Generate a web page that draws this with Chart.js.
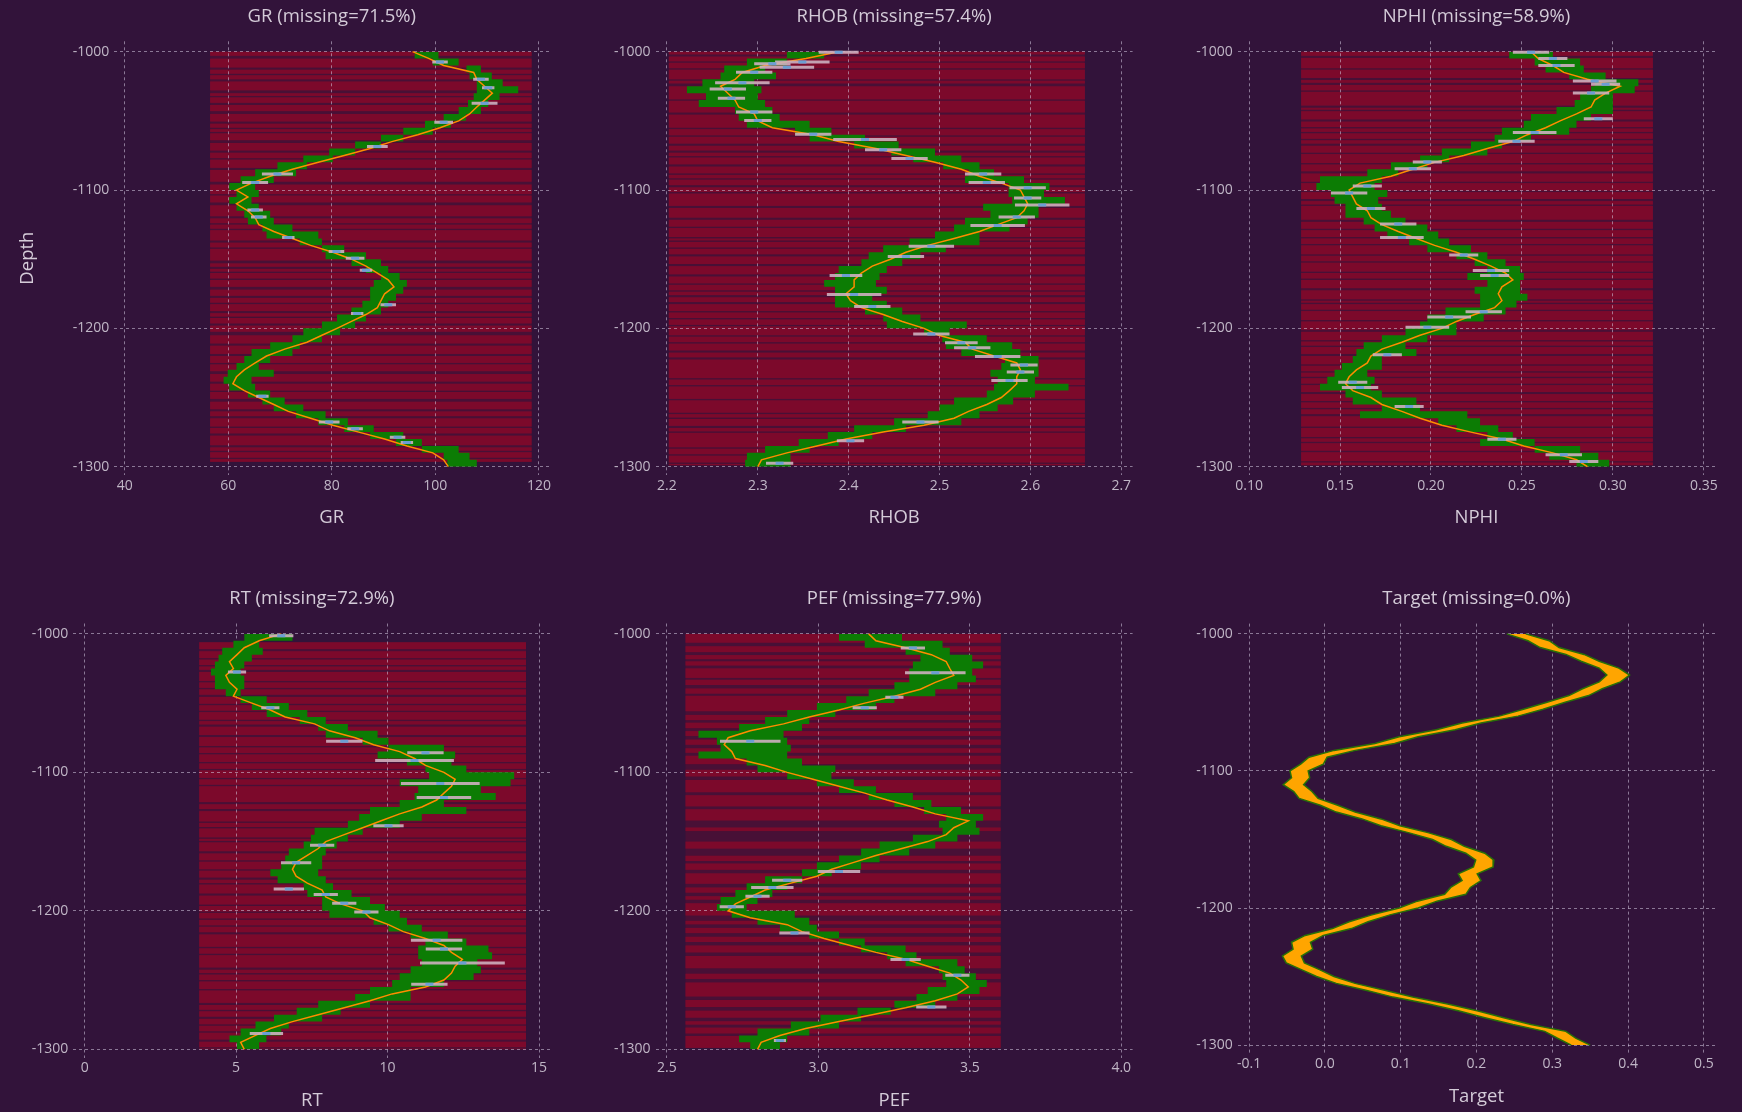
<!DOCTYPE html>
<html>
<head>
<meta charset="utf-8">
<script src="https://cdn.jsdelivr.net/npm/chart.js@4.4.0/dist/chart.umd.min.js"></script>
<style>
  html, body { margin: 0; padding: 0; background: #32133a; }
  body { width: 1742px; height: 1112px; position: relative; overflow: hidden; }
  canvas { position: absolute; }
</style>
</head>
<body>
<script>
// depth samples shared by every track
const depth = [
  -1000, -1005, -1010, -1015, -1020, -1025, -1030, -1035, -1040, -1045,
  -1050, -1055, -1060, -1065, -1070, -1075, -1080, -1085, -1090, -1095,
  -1100, -1105, -1110, -1115, -1120, -1125, -1130, -1135, -1140, -1145,
  -1150, -1155, -1160, -1165, -1170, -1175, -1180, -1185, -1190, -1195,
  -1200, -1205, -1210, -1215, -1220, -1225, -1230, -1235, -1240, -1245,
  -1250, -1255, -1260, -1265, -1270, -1275, -1280, -1285, -1290, -1295,
  -1300
];
const depthTicks = [-1000, -1100, -1200, -1300];

// ---- GR ----
const grMid = [
  95.6, 98.8, 101.6, 107.4, 108, 109.5, 111, 109.5, 108, 106.6,
  104.5, 100.9, 96.6, 91.6, 87.4, 82.4, 77.4, 72.4, 68.1, 64.5,
  61.6, 63.8, 61.6, 63.8, 65.2, 65.9, 68.8, 72.4, 75.9, 80.2,
  83.8, 86.6, 88.8, 90.9, 92, 90.2, 89.5, 88.8, 86.6, 83.8,
  81, 78.1, 75.2, 70.9, 67.4, 65.2, 63.1, 61.6, 60.9, 63.1,
  65.9, 68.8, 71.6, 75.9, 80.2, 85.2, 90.2, 94.5, 99.5, 101.6,
  102.5
];
const grLo = [
  94.9, 96, 99.5, 106, 106.6, 108, 108, 107.4, 106.3, 104.5,
  101.6, 98, 93.8, 89.5, 84.5, 79.5, 74.5, 69.5, 65.2, 62.4,
  60.2, 61.6, 60.2, 61.6, 63.1, 63.8, 66.6, 67.4, 73.8, 78.1,
  78.8, 83.8, 86.6, 89.5, 88.1, 87.4, 87.4, 85.9, 83.8, 81,
  78.1, 74.5, 72.4, 68.1, 64.5, 63.1, 61.6, 59.9, 59.1, 60.2,
  63.8, 66.6, 68.8, 73.1, 77.4, 82.4, 87.4, 92.4, 97.4, 101.6,
  102.3
];
const grHi = [
  98.1, 100.6, 104.5, 108.8, 110.9, 113, 116, 112.4, 110.2, 108.8,
  105.9, 103, 99.5, 93.8, 89.5, 84.5, 80.2, 75.2, 73.1, 68.8,
  65.2, 65.9, 64.5, 65.9, 68.1, 68.8, 72.4, 77.4, 78.1, 82.4,
  86.6, 89.5, 90.9, 93.1, 94.5, 93.8, 92.4, 90.9, 89.5, 86.6,
  84.5, 81.6, 78.1, 73.8, 72.4, 68.1, 65.9, 68.8, 64.5, 65.2,
  68.1, 70.9, 74.5, 78.8, 83.1, 88.1, 93.8, 97.4, 104.5, 106.6,
  108
];
const grObsD = [-1007.5, -1019.9, -1026, -1037.3, -1051, -1068.5, -1088.4, -1094.6, -1114.5, -1119.5,
  -1134.4, -1144.4, -1149.4, -1158, -1183, -1189.2, -1249, -1267.6, -1272.6, -1278.8, -1282.5];
const grObsV = [100.9, 108.8, 110.2, 109.5, 101.6, 88.8, 69.5, 65.2, 65.2, 65.9,
  71.6, 80.9, 84.5, 86.6, 90.9, 84.9, 66.6, 79.5, 84.5, 92.7, 94.5];
const grObsErr = [1.5, 1.5, 1.2, 2.5, 1.8, 2, 3, 2.5, 1.5, 1.5,
  1.2, 1.5, 1.8, 1.2, 1.5, 1.2, 1.2, 2, 1.5, 1.5, 1.2];
const grRedX = [56.5, 118.6];
const grRedD = [-1000, -1296.5];
const grGaps = [[-1003,-1005],[-1011.5,-1013],[-1016,-1017],[-1020,-1021.5],[-1028,-1030],[-1032,-1033],
  [-1037,-1038.5],[-1043,-1045],[-1050.5,-1052],[-1055,-1056],[-1058,-1059],[-1064,-1066],[-1071.5,-1073],
  [-1077,-1078],[-1084,-1085.5],[-1094,-1096],[-1103,-1104],[-1109,-1111],[-1119,-1120.5],[-1124,-1125],
  [-1128,-1129],[-1136.5,-1138],[-1141.5,-1142.5],[-1151,-1153],[-1155.5,-1157],[-1159,-1160],[-1164,-1165],
  [-1170,-1172],[-1176.5,-1178],[-1181.5,-1182.5],[-1187.5,-1189],[-1191.5,-1192.5],[-1196.5,-1198],
  [-1202.5,-1205],[-1211,-1212.5],[-1218.5,-1220],[-1225,-1226],[-1231,-1233],[-1238.5,-1240],[-1245,-1246],
  [-1251,-1253],[-1258.5,-1260],[-1263.5,-1265],[-1271,-1272],[-1276,-1277.5],[-1284.5,-1286],
  [-1288.5,-1289.5],[-1293.5,-1294.5]];
const grTicks = [40, 60, 80, 100, 120];

// ---- RHOB ----
const rhobMid = [
  2.389, 2.353, 2.308, 2.283, 2.275, 2.259, 2.267, 2.275, 2.279, 2.296,
  2.3, 2.316, 2.361, 2.389, 2.43, 2.463, 2.495, 2.524, 2.544, 2.568,
  2.589, 2.593, 2.597, 2.593, 2.585, 2.564, 2.544, 2.516, 2.487, 2.463,
  2.446, 2.426, 2.414, 2.406, 2.406, 2.397, 2.402, 2.414, 2.438, 2.459,
  2.483, 2.499, 2.528, 2.536, 2.56, 2.585, 2.589, 2.585, 2.585, 2.577,
  2.568, 2.552, 2.532, 2.516, 2.483, 2.438, 2.397, 2.365, 2.332, 2.304,
  2.3
];
const rhobLo = [
  2.365, 2.332, 2.288, 2.263, 2.259, 2.239, 2.222, 2.243, 2.235, 2.275,
  2.279, 2.288, 2.341, 2.357, 2.406, 2.447, 2.471, 2.504, 2.532, 2.528,
  2.576, 2.576, 2.58, 2.548, 2.556, 2.528, 2.516, 2.495, 2.467, 2.438,
  2.422, 2.414, 2.389, 2.385, 2.373, 2.385, 2.385, 2.385, 2.418, 2.438,
  2.442, 2.483, 2.503, 2.507, 2.524, 2.572, 2.568, 2.556, 2.564, 2.56,
  2.552, 2.516, 2.5, 2.487, 2.45, 2.406, 2.377, 2.345, 2.308, 2.288,
  2.286
];
const rhobHi = [
  2.404, 2.373, 2.332, 2.308, 2.32, 2.296, 2.304, 2.3, 2.308, 2.316,
  2.324, 2.357, 2.381, 2.418, 2.455, 2.495, 2.524, 2.544, 2.56, 2.593,
  2.621, 2.615, 2.638, 2.609, 2.609, 2.597, 2.577, 2.544, 2.544, 2.507,
  2.479, 2.459, 2.442, 2.434, 2.43, 2.442, 2.426, 2.442, 2.459, 2.479,
  2.53, 2.511, 2.552, 2.58, 2.589, 2.609, 2.609, 2.609, 2.605, 2.642,
  2.605, 2.581, 2.564, 2.544, 2.524, 2.463, 2.426, 2.389, 2.357, 2.336,
  2.336
];
const rhobObsD = [-1000.5, -1007.5, -1008.7, -1011.2, -1014.9, -1022.4, -1026.9, -1033.6, -1043.6, -1049.8,
  -1059.7, -1063.5, -1070.9, -1077.2, -1088.4, -1094.6, -1098.3, -1105.8, -1110.8, -1119.5,
  -1125.7, -1140.7, -1148.1, -1161.8, -1175.5, -1184.2, -1204.1, -1210.4, -1214.1, -1220.3,
  -1226.5, -1231.5, -1237.7, -1267.6, -1281.3, -1297.5];
const rhobObsV = [2.389, 2.349, 2.316, 2.332, 2.296, 2.283, 2.267, 2.271, 2.296, 2.3,
  2.361, 2.418, 2.438, 2.467, 2.548, 2.552, 2.597, 2.597, 2.613, 2.585,
  2.564, 2.491, 2.463, 2.397, 2.406, 2.426, 2.491, 2.524, 2.536, 2.564,
  2.593, 2.589, 2.577, 2.479, 2.402, 2.324];
const rhobObsErr = [0.022, 0.03, 0.02, 0.03, 0.02, 0.03, 0.02, 0.015, 0.02, 0.015,
  0.02, 0.035, 0.02, 0.02, 0.02, 0.02, 0.02, 0.015, 0.03, 0.02,
  0.03, 0.025, 0.02, 0.018, 0.03, 0.02, 0.02, 0.018, 0.02, 0.025,
  0.015, 0.015, 0.02, 0.02, 0.015, 0.015];
const rhobRedX = [2.202, 2.66];
const rhobRedD = [-1000, -1299];
const rhobGaps = [[-1002,-1003.5],[-1007,-1008],[-1012,-1013],[-1020,-1021],[-1023,-1025],[-1034.5,-1035.5],
  [-1044,-1045.5],[-1055,-1056],[-1060.5,-1061.5],[-1066.5,-1068],[-1071.5,-1073],[-1075.5,-1076.5],
  [-1081.5,-1083],[-1088,-1089],[-1091.5,-1092.5],[-1096.5,-1098],[-1101.5,-1102.5],[-1111.5,-1113],
  [-1120,-1121.5],[-1126.5,-1127.5],[-1134,-1135],[-1136.5,-1137.5],[-1141.5,-1142.5],[-1146.5,-1148],
  [-1153.5,-1155],[-1161,-1162.5],[-1167.5,-1168.5],[-1172.5,-1173.5],[-1176,-1177.5],[-1181,-1182.5],
  [-1187.5,-1188.5],[-1192.5,-1193.5],[-1197.5,-1198.5],[-1205,-1206],[-1210,-1211],[-1216,-1217.5],
  [-1221,-1222.5],[-1236,-1237],[-1241,-1242],[-1251,-1252],[-1261,-1262],[-1264.5,-1265.5],
  [-1270.5,-1272],[-1274.5,-1275.5],[-1286,-1287],[-1291,-1292],[-1297,-1298]];
const rhobTicks = [2.2, 2.3, 2.4, 2.5, 2.6, 2.7];

// ---- NPHI ----
const nphiMid = [
  0.255, 0.259, 0.267, 0.273, 0.286, 0.304, 0.296, 0.29, 0.288, 0.28,
  0.271, 0.263, 0.253, 0.245, 0.231, 0.218, 0.202, 0.19, 0.178, 0.161,
  0.155, 0.157, 0.159, 0.165, 0.167, 0.173, 0.182, 0.192, 0.202, 0.214,
  0.224, 0.233, 0.241, 0.245, 0.239, 0.237, 0.239, 0.235, 0.224, 0.214,
  0.206, 0.194, 0.184, 0.173, 0.167, 0.165, 0.159, 0.155, 0.153, 0.157,
  0.167, 0.173, 0.184, 0.194, 0.206, 0.222, 0.239, 0.251, 0.267, 0.28,
  0.286
];
const nphiLo = [
  0.241, 0.243, 0.257, 0.263, 0.276, 0.29, 0.288, 0.282, 0.279, 0.269,
  0.255, 0.251, 0.239, 0.235, 0.222, 0.206, 0.194, 0.178, 0.165, 0.139,
  0.137, 0.145, 0.147, 0.153, 0.153, 0.163, 0.169, 0.176, 0.188, 0.198,
  0.214, 0.224, 0.231, 0.22, 0.231, 0.224, 0.227, 0.227, 0.208, 0.198,
  0.194, 0.186, 0.173, 0.163, 0.159, 0.157, 0.151, 0.147, 0.143, 0.139,
  0.153, 0.157, 0.173, 0.161, 0.204, 0.214, 0.231, 0.227, 0.257, 0.265,
  0.28
];
const nphiHi = [
  0.276, 0.267, 0.282, 0.284, 0.296, 0.314, 0.312, 0.3, 0.3, 0.3,
  0.288, 0.28, 0.276, 0.255, 0.239, 0.231, 0.21, 0.198, 0.182, 0.173,
  0.169, 0.176, 0.171, 0.173, 0.178, 0.186, 0.198, 0.204, 0.21, 0.222,
  0.231, 0.241, 0.249, 0.251, 0.249, 0.249, 0.253, 0.247, 0.241, 0.229,
  0.214, 0.214, 0.198, 0.186, 0.192, 0.173, 0.173, 0.165, 0.169, 0.167,
  0.173, 0.192, 0.194, 0.22, 0.227, 0.237, 0.245, 0.257, 0.282, 0.292,
  0.298
];
const nphiObsD = [-1000.5, -1005, -1010, -1021.2, -1023.6, -1029.9, -1048.5, -1058.5, -1064.7, -1079.7,
  -1084.6, -1097.1, -1102.1, -1113.3, -1124.5, -1134.4, -1146.9, -1158.1, -1161.8, -1188,
  -1191.7, -1199.2, -1219.1, -1239, -1242.7, -1256.4, -1280.1, -1291.3, -1296.2];
const nphiObsV = [0.255, 0.267, 0.269, 0.29, 0.296, 0.288, 0.292, 0.257, 0.247, 0.198,
  0.19, 0.165, 0.155, 0.167, 0.182, 0.184, 0.218, 0.233, 0.235, 0.229,
  0.21, 0.198, 0.176, 0.157, 0.161, 0.188, 0.239, 0.273, 0.284];
const nphiObsErr = [0.01, 0.008, 0.01, 0.012, 0.008, 0.01, 0.008, 0.012, 0.01, 0.008,
  0.01, 0.008, 0.01, 0.008, 0.01, 0.012, 0.008, 0.01, 0.008, 0.01,
  0.012, 0.012, 0.008, 0.008, 0.01, 0.008, 0.008, 0.01, 0.008];
const nphiRedX = [0.1286, 0.322];
const nphiRedD = [-1000, -1299];
const nphiGaps = [[-1003,-1004.5],[-1012,-1013],[-1019,-1020.5],[-1022.5,-1024],[-1028,-1029],[-1039,-1040.5],
  [-1042,-1043],[-1049,-1050.5],[-1054.5,-1055.5],[-1058,-1059],[-1063,-1064],[-1066.5,-1068],[-1073,-1074],
  [-1080.5,-1081.5],[-1086.5,-1088],[-1094,-1095],[-1100.5,-1101.5],[-1106.5,-1108],[-1110.5,-1111.5],
  [-1121.5,-1123],[-1128,-1129],[-1134,-1135],[-1139,-1140],[-1146.5,-1147.5],[-1151.5,-1152.5],
  [-1159,-1160],[-1164,-1165],[-1171,-1172.5],[-1179,-1180],[-1181.5,-1182.5],[-1186.5,-1187.5],
  [-1194,-1195],[-1201,-1202.5],[-1208.5,-1209.5],[-1212.5,-1213.5],[-1218.5,-1220],[-1226,-1227],
  [-1231,-1232],[-1235,-1236],[-1240,-1241],[-1246,-1247.5],[-1252.5,-1253.5],[-1257.5,-1258.5],
  [-1262,-1263.5],[-1271,-1272],[-1278.5,-1279.5],[-1282,-1283],[-1288.5,-1289.5],[-1296,-1297]];
const nphiTicks = [0.10, 0.15, 0.20, 0.25, 0.30, 0.35];

// ---- RT ----
const rtMid = [
  6.49, 5.76, 5.27, 5.03, 4.78, 4.91, 4.66, 4.78, 5.03, 4.91,
  5.52, 6.13, 6.62, 7.59, 8.08, 8.93, 9.54, 10.4, 10.89, 11.25,
  11.86, 12.23, 12.11, 11.86, 11.62, 11.13, 10.4, 9.79, 9.18, 8.57,
  7.96, 7.71, 7.35, 6.98, 6.86, 6.98, 7.35, 7.84, 7.96, 8.45,
  9.18, 9.42, 10.03, 10.52, 11.25, 11.86, 12.11, 12.47, 12.23, 12.11,
  11.86, 11.25, 10.15, 9.42, 8.57, 7.71, 6.86, 6.13, 5.64, 5.15,
  5.27
];
const rtLo = [
  6.13, 5.27, 4.91, 4.54, 4.42, 4.3, 4.17, 4.3, 4.3, 4.66,
  5.15, 5.52, 6.01, 7.1, 7.71, 7.96, 9.18, 10.03, 9.67, 10.64,
  11.25, 11.37, 10.4, 11.01, 10.89, 10.4, 9.42, 9.06, 8.69, 7.59,
  7.47, 7.23, 6.74, 6.62, 6.49, 6.13, 6.37, 7.23, 7.35, 7.84,
  7.84, 8.08, 9.54, 10.03, 10.76, 11.25, 11.01, 11.01, 11.13, 10.76,
  10.4, 10.15, 9.42, 8.93, 7.71, 7.0, 6.25, 5.64, 5.15, 4.78,
  5.03
];
const rtHi = [
  6.98, 6.86, 5.76, 5.88, 5.52, 5.27, 5.15, 5.27, 5.27, 5.15,
  6.01, 6.74, 7.35, 7.96, 8.69, 9.67, 10.03, 11.86, 12.23, 12.11,
  12.6, 14.18, 14.06, 13.08, 13.57, 11.86, 12.6, 11.13, 10.4, 9.18,
  8.69, 8.32, 7.96, 7.84, 7.84, 7.71, 7.96, 8.2, 8.81, 9.42,
  9.91, 10.4, 10.64, 11.13, 11.99, 12.6, 13.33, 13.45, 12.96, 13.08,
  12.84, 11.86, 10.76, 10.76, 9.42, 8.45, 7.84, 6.74, 6.49, 6.0,
  5.76
];
const rtObsD = [-1001.3, -1027.5, -1053.4, -1077.5, -1085.9, -1091.5, -1108.1, -1118.2, -1138.6, -1152.6,
  -1165.3, -1184.3, -1188.2, -1194.5, -1200.9, -1221.2, -1227.6, -1237.7, -1253, -1288.6];
const rtObsV = [6.49, 5.03, 6.13, 8.57, 11.25, 10.89, 11.74, 11.86, 10.03, 7.84,
  6.98, 6.74, 7.96, 8.57, 9.3, 11.62, 11.86, 12.47, 11.38, 6.0];
const rtObsErr = [0.4, 0.3, 0.3, 0.6, 0.6, 1.3, 1.3, 0.9, 0.5, 0.4,
  0.5, 0.5, 0.4, 0.4, 0.4, 0.85, 0.6, 1.4, 0.6, 0.55];
const rtRedX = [3.78, 14.57];
const rtRedD = [-1006, -1300];
const rtGaps = [[-1011,-1012.5],[-1017.5,-1018.5],[-1022.5,-1023.5],[-1026,-1027.5],[-1034,-1035],[-1039,-1040],
  [-1044,-1045.5],[-1050.5,-1051.5],[-1055.5,-1056.5],[-1062,-1063],[-1065.5,-1067],[-1073,-1074.5],
  [-1081,-1082],[-1086,-1087],[-1092.5,-1093.5],[-1097.5,-1098.5],[-1104,-1105],[-1109,-1110],
  [-1121.5,-1123],[-1126.5,-1128],[-1135.5,-1136.5],[-1139.5,-1140.5],[-1147,-1148],[-1149.5,-1150.5],
  [-1157,-1158.5],[-1163.5,-1164.5],[-1170,-1171],[-1176,-1177.5],[-1180,-1181],[-1187.5,-1189],
  [-1195.5,-1196.5],[-1200.5,-1201.5],[-1205.5,-1206.5],[-1210.5,-1211.5],[-1215.5,-1217],[-1226,-1227],
  [-1231,-1232],[-1241,-1242.5],[-1245,-1246],[-1250,-1251],[-1256.5,-1257.5],[-1266.5,-1268],
  [-1271.5,-1272.5],[-1276.5,-1278],[-1282,-1283],[-1287,-1288],[-1293,-1294.5],[-1298.5,-1299.5]];
const rtTicks = [0, 5, 10, 15];

// ---- PEF ----
const pefMid = [
  3.166, 3.19, 3.288, 3.373, 3.422, 3.434, 3.447, 3.386, 3.337, 3.251,
  3.153, 3.068, 2.97, 2.885, 2.775, 2.702, 2.689, 2.714, 2.726, 2.824,
  2.897, 2.982, 3.068, 3.153, 3.227, 3.312, 3.386, 3.495, 3.447, 3.422,
  3.361, 3.276, 3.19, 3.117, 3.044, 2.995, 2.909, 2.824, 2.775, 2.726,
  2.702, 2.775, 2.897, 2.946, 3.019, 3.105, 3.19, 3.288, 3.361, 3.434,
  3.471, 3.495, 3.459, 3.386, 3.288, 3.178, 3.068, 2.958, 2.873, 2.811,
  2.799
];
const pefLo = [
  3.117, 3.068, 3.153, 3.288, 3.337, 3.312, 3.3, 3.3, 3.251, 3.166,
  3.092, 2.995, 2.897, 2.824, 2.738, 2.604, 2.665, 2.677, 2.604, 2.763,
  2.799, 2.897, 2.995, 3.068, 3.166, 3.251, 3.349, 3.422, 3.398, 3.41,
  3.312, 3.202, 3.141, 3.068, 2.995, 2.946, 2.824, 2.763, 2.726, 2.677,
  2.665, 2.714, 2.799, 2.873, 2.97, 3.068, 3.141, 3.227, 3.288, 3.398,
  3.41, 3.422, 3.361, 3.324, 3.251, 3.129, 3.007, 2.909, 2.799, 2.738,
  2.775
];
const pefHi = [
  3.202, 3.276, 3.41, 3.434, 3.508, 3.544, 3.508, 3.52, 3.459, 3.386,
  3.251, 3.19, 3.056, 2.97, 2.946, 2.885, 2.897, 2.909, 2.897, 2.946,
  3.056, 3.043, 3.117, 3.19, 3.312, 3.373, 3.471, 3.544, 3.52, 3.532,
  3.459, 3.386, 3.3, 3.202, 3.141, 3.044, 2.946, 2.897, 2.848, 2.799,
  2.763, 2.922, 2.97, 2.995, 3.068, 3.153, 3.288, 3.324, 3.459, 3.483,
  3.52, 3.556, 3.532, 3.459, 3.386, 3.239, 3.141, 3.068, 2.97, 2.897,
  2.873
];
const pefObsD = [-1010.2, -1028, -1045.8, -1053.4, -1077.5, -1171.6, -1178, -1183.1, -1189.4, -1197,
  -1216.1, -1235.2, -1246.6, -1269.5, -1293.7];
const pefObsV = [3.312, 3.386, 3.251, 3.153, 2.775, 3.068, 2.897, 2.848, 2.799, 2.714,
  2.921, 3.288, 3.459, 3.373, 2.873];
const pefObsErr = [0.04, 0.1, 0.03, 0.04, 0.1, 0.07, 0.05, 0.07, 0.04, 0.04,
  0.05, 0.05, 0.04, 0.05, 0.02];
const pefRedX = [2.561, 3.602];
const pefRedD = [-1000, -1299];
const pefGaps = [[-1006.4,-1008.9],[-1013.2,-1015.3],[-1018.3,-1019.8],[-1022.9,-1024.9],[-1031.8,-1033.1],
  [-1036.9,-1039.4],[-1043.2,-1044.7],[-1055.9,-1058.5],[-1062.3,-1064.1],[-1068.1,-1070.2],
  [-1073.7,-1076.3],[-1080.1,-1082.6],[-1085.9,-1088],[-1094.1,-1098.1],[-1103,-1105.5],
  [-1114.4,-1116.5],[-1124.6,-1126.6],[-1134.8,-1139.8],[-1142.4,-1150],[-1155.1,-1160.2],
  [-1164,-1165.8],[-1170.4,-1172.9],[-1180.5,-1183.1],[-1186.9,-1189.4],[-1192,-1194.5],
  [-1203.4,-1207.2],[-1209.8,-1212.3],[-1216.1,-1218.7],[-1222.5,-1225],[-1230.1,-1232.6],
  [-1241.5,-1245.4],[-1249.2,-1251.7],[-1261.9,-1264.4],[-1269.5,-1272.1],[-1277.2,-1279.7],
  [-1282.2,-1284.3],[-1288.6,-1290.4]];
const pefTicks = [2.5, 3.0, 3.5, 4.0];

// ---- Target ----
const tgtLo = [
  0.24, 0.268, 0.284, 0.318, 0.338, 0.362, 0.372, 0.362, 0.34, 0.322,
  0.292, 0.262, 0.23, 0.181, 0.147, 0.098, 0.066, 0.012, -0.021, -0.032,
  -0.046, -0.044, -0.055, -0.041, -0.034, -0.006, 0.015, 0.049, 0.074, 0.11,
  0.142, 0.16, 0.186, 0.199, 0.196, 0.176, 0.181, 0.166, 0.158, 0.122,
  0.098, 0.062, 0.032, 0.01, -0.026, -0.044, -0.042, -0.056, -0.051, -0.031,
  -0.011, 0.015, 0.054, 0.09, 0.137, 0.176, 0.211, 0.248, 0.29, 0.307,
  0.325
];
const tgtHi = [
  0.265, 0.296, 0.309, 0.342, 0.362, 0.388, 0.402, 0.39, 0.366, 0.348,
  0.316, 0.288, 0.255, 0.206, 0.172, 0.123, 0.092, 0.04, 0.003, -0.002,
  -0.022, -0.02, -0.028, -0.017, -0.009, 0.017, 0.04, 0.074, 0.099, 0.136,
  0.167, 0.184, 0.211, 0.223, 0.222, 0.201, 0.206, 0.192, 0.186, 0.148,
  0.123, 0.086, 0.057, 0.035, -0.002, -0.019, -0.016, -0.031, -0.027, -0.007,
  0.012, 0.04, 0.079, 0.116, 0.162, 0.201, 0.236, 0.272, 0.318, 0.331,
  0.35
];
const tgtTicks = [-0.1, 0, 0.1, 0.2, 0.3, 0.4, 0.5];

// ---- look ----
const TITLE = '#d4cbd8';
const TICK = '#c0b6c6';
const GRID = 'rgba(214, 204, 226, 0.55)';
const RED = 'rgba(150, 8, 40, 0.68)';
const RED_HAZE = 'rgba(150, 8, 40, 0.22)';
const GREEN = 'rgb(12, 124, 4)';
const ORANGE = '#ff8c00';
const OBS_GRAY = 'rgba(206, 176, 192, 0.9)';
const OBS_BLUE = '#6c9ed4';
const TGT_FILL = '#ffa500';
const TGT_EDGE = 'rgb(40, 112, 8)';

Chart.defaults.font.family = "'Open Sans', 'DejaVu Sans', sans-serif";
Chart.defaults.animation = false;

const pts = (xs, ys) => xs.map((v, i) => ({ x: v, y: ys[i] }));

// horizontal error bars, broken apart with an empty point
const bars = (d, v, e) => d.flatMap((dd, i) => [
  { x: v[i] - e[i], y: dd }, { x: v[i] + e[i], y: dd }, { x: null, y: dd }
]);

// rows with no recorded value: everything between the listed gaps
const missingRows = (range, gaps) => {
  const out = [];
  let top = range[0];
  for (const [a, b] of gaps) { out.push([top, a]); top = b; }
  out.push([top, range[1]]);
  return out;
};

const missingPlugin = {
  id: 'missing',
  beforeDraw(chart, args, o) {
    if (!o.rows) return;
    const { ctx, scales: { x, y } } = chart;
    const x0 = x.getPixelForValue(o.span[0]);
    const x1 = x.getPixelForValue(o.span[1]);
    ctx.save();
    // faint wash over the whole logged interval, then the missing rows on top
    ctx.fillStyle = o.haze;
    const t0 = y.getPixelForValue(o.range[0]), t1 = y.getPixelForValue(o.range[1]);
    ctx.fillRect(x0, t0, x1 - x0, t1 - t0);
    ctx.fillStyle = o.color;
    for (const [a, b] of o.rows) {
      const t = y.getPixelForValue(a);
      const bt = y.getPixelForValue(b);
      ctx.fillRect(x0, t, x1 - x0, bt - t);
    }
    ctx.restore();
  }
};

const panels = [
  { title: 'GR (missing=71.5%)', label: 'GR', area: [114.3, 41.3, 549.3, 475.0], yw: 100, xr: [38, 122],
    ticks: grTicks, dec: 0, depthTitle: true,
    mid: grMid, lo: grLo, hi: grHi, obs: [grObsD, grObsV, grObsErr], gaps: grGaps, redX: grRedX, redD: grRedD },
  { title: 'RHOB (missing=57.4%)', label: 'RHOB', area: [655.6, 41.3, 1132.6, 475.0], yw: 60, xr: [2.1875, 2.7125],
    ticks: rhobTicks, dec: 1,
    mid: rhobMid, lo: rhobLo, hi: rhobHi, obs: [rhobObsD, rhobObsV, rhobObsErr], gaps: rhobGaps, redX: rhobRedX, redD: rhobRedD },
  { title: 'NPHI (missing=58.9%)', label: 'NPHI', area: [1237.7, 41.3, 1715.2, 475.0], yw: 60, xr: [0.09375, 0.35625],
    ticks: nphiTicks, dec: 2,
    mid: nphiMid, lo: nphiLo, hi: nphiHi, obs: [nphiObsD, nphiObsV, nphiObsErr], gaps: nphiGaps, redX: nphiRedX, redD: nphiRedD },
  { title: 'RT (missing=72.9%)', label: 'RT', area: [73.3, 623.5, 550.4, 1057.6], yw: 60, xr: [-0.375, 15.375],
    ticks: rtTicks, dec: 0,
    mid: rtMid, lo: rtLo, hi: rtHi, obs: [rtObsD, rtObsV, rtObsErr], gaps: rtGaps, redX: rtRedX, redD: rtRedD },
  { title: 'PEF (missing=77.9%)', label: 'PEF', area: [655.6, 623.5, 1132.6, 1057.6], yw: 60, xr: [2.4625, 4.0375],
    ticks: pefTicks, dec: 1,
    mid: pefMid, lo: pefLo, hi: pefHi, obs: [pefObsD, pefObsV, pefObsErr], gaps: pefGaps, redX: pefRedX, redD: pefRedD },
  { title: 'Target (missing=0.0%)', label: 'Target', area: [1237.7, 623.6, 1715.2, 1053.3], yw: 60, xr: [-0.115, 0.515],
    ticks: tgtTicks, dec: 1, target: true }
];

const logDatasets = p => [
  { data: pts(p.obs[1], p.obs[0]), showLine: false, pointStyle: 'line', pointRadius: 4,
    pointBorderColor: OBS_BLUE, pointBorderWidth: 3, order: 0 },
  { data: bars(p.obs[0], p.obs[1], p.obs[2]), borderColor: OBS_GRAY, borderWidth: 3, pointRadius: 0, order: 1 },
  { data: pts(p.mid, depth), borderColor: ORANGE, borderWidth: 1.5, pointRadius: 0, order: 2 },
  { data: pts(p.lo, depth), borderWidth: 0, pointRadius: 0, stepped: true, fill: false, order: 4 },
  { data: pts(p.hi, depth), borderWidth: 0, pointRadius: 0, stepped: true, fill: '-1',
    backgroundColor: GREEN, order: 3 }
];

const targetDatasets = () => [
  { data: pts(tgtLo, depth), borderColor: TGT_EDGE, borderWidth: 1.5, pointRadius: 0, fill: false },
  { data: pts(tgtHi, depth), borderColor: TGT_EDGE, borderWidth: 1.5, pointRadius: 0,
    fill: '-1', backgroundColor: TGT_FILL }
];

const drawPanel = p => {
  const [x0, y0, x1, y1] = p.area;
  const left = Math.floor(x0 - p.yw), top = Math.floor(y0 - 45);
  const right = Math.ceil(x1 + 30), bottom = Math.ceil(y1 + 62);
  const cv = document.createElement('canvas');
  cv.width = right - left;
  cv.height = bottom - top;
  cv.style.left = left + 'px';
  cv.style.top = top + 'px';
  document.body.appendChild(cv);

  const yw = x0 - left, th = y0 - top, bh = bottom - y1, rp = right - x1;
  const axisFont = { size: 18.5 };
  const tickFont = { size: 14 };

  new Chart(cv, {
    type: 'line',
    data: { datasets: p.target ? targetDatasets() : logDatasets(p) },
    plugins: [missingPlugin],
    options: {
      responsive: false,
      indexAxis: 'y',
      events: [],
      layout: { padding: { left: 0, top: 0, bottom: 0, right: rp } },
      elements: { line: { tension: 0 } },
      plugins: {
        legend: { display: false },
        tooltip: { enabled: false },
        title: {
          display: true, text: p.title, color: TITLE, fullSize: false,
          font: { size: 18.5, weight: 'normal' },
          padding: { top: th - 24.5 - 11.1, bottom: 24.5 - 11.1 }
        },
        missing: p.target ? {} : {
          rows: missingRows(p.redD, p.gaps), range: p.redD, span: p.redX, color: RED, haze: RED_HAZE
        }
      },
      scales: {
        x: {
          type: 'linear', min: p.xr[0], max: p.xr[1],
          afterBuildTicks: s => { s.ticks = p.ticks.map(v => ({ value: v })); },
          afterFit: s => { s.height = bh; },
          grid: { color: GRID, lineWidth: 1, drawTicks: false },
          border: { display: false, dash: [3, 3] },
          ticks: { color: TICK, font: tickFont, padding: 2.4, maxRotation: 0, autoSkip: false,
            callback: v => v.toFixed(p.dec) },
          title: { display: true, text: p.label, color: TITLE, font: axisFont,
            padding: { top: 0, bottom: bh - 43.2 - 11.1 } }
        },
        y: {
          type: 'linear', min: -1306, max: -992.5,
          afterBuildTicks: s => { s.ticks = depthTicks.map(v => ({ value: v })); },
          afterFit: s => { s.width = yw; },
          grid: { color: GRID, lineWidth: 1, drawTicks: false },
          border: { display: false, dash: [3, 3] },
          ticks: { color: TICK, font: tickFont, padding: 5, autoSkip: false, callback: v => String(v) },
          title: { display: !!p.depthTitle, text: 'Depth', color: TITLE, font: axisFont,
            padding: { top: 28 - left - 11.1, bottom: 0 } }
        }
      }
    }
  });
};

panels.forEach(drawPanel);
</script>
</body>
</html>
